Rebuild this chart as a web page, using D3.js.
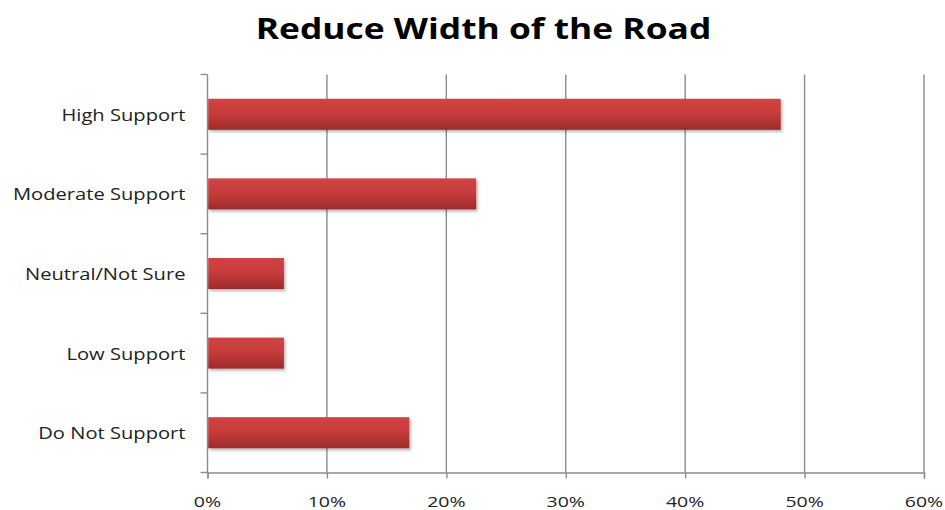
<!DOCTYPE html>
<html>
<head>
<meta charset="utf-8">
<script src="https://cdn.jsdelivr.net/npm/d3@7"></script>
<style>
  html, body { margin: 0; padding: 0; background: #fff; }
  svg { display: block; }
</style>
</head>
<body>
<svg id="chart" width="945" height="510"></svg>
<script>
// Survey responses, top to bottom
const categories = ["High Support", "Moderate Support", "Neutral/Not Sure", "Low Support", "Do Not Support"];
const shares = [0.48, 0.225, 0.064, 0.064, 0.169];
const xTickValues = [0, 0.1, 0.2, 0.3, 0.4, 0.5, 0.6];
const chartTitle = "Reduce Width of the Road";

const svg = d3.select("#chart");
const margin = { left: 207.5, right: 21, top: 74.5, bottom: 37.5 };
const W = 945, H = 510;
const FONT = "'Open Sans', 'DejaVu Sans', sans-serif";
const AXIS_GREY = "#8c8c8c";

const x = d3.scaleLinear().domain([0, 0.6]).range([margin.left, W - margin.right]);
const y = d3.scaleBand().domain(categories).range([margin.top, H - margin.bottom])
  .paddingInner(0.61).paddingOuter(0.305);

// Text set in a wide face: glyphs are stretched horizontally around their anchor
function wideText(parent, px, py, str, opts) {
  return parent.append("text")
    .attr("transform", `translate(${px},${py}) scale(${opts.sx},1)`)
    .attr("text-anchor", opts.anchor || "start")
    .attr("dy", opts.dy || 0)
    .style("font-family", FONT)
    .style("font-size", opts.size + "px")
    .style("font-weight", opts.weight || 400)
    .attr("fill", opts.fill || "#222")
    .text(str);
}

// Bar gradient and soft drop shadow
const defs = svg.append("defs");
const grad = defs.append("linearGradient").attr("id", "barGrad")
  .attr("x1", 0).attr("y1", 0).attr("x2", 0).attr("y2", 1);
grad.append("stop").attr("offset", "0%").attr("stop-color", "#d24443");
grad.append("stop").attr("offset", "45%").attr("stop-color", "#c73c3b");
grad.append("stop").attr("offset", "100%").attr("stop-color", "#9c2b2b");
const shadow = defs.append("filter").attr("id", "barShadow")
  .attr("x", "-5%").attr("y", "-30%").attr("width", "110%").attr("height", "170%");
shadow.append("feDropShadow").attr("dx", 1.5).attr("dy", 2).attr("stdDeviation", 1.6)
  .attr("flood-color", "#000").attr("flood-opacity", 0.3);

// Title
wideText(svg, 483.5, 39, chartTitle, { sx: 1.22, size: 29, weight: 700, anchor: "middle", fill: "#000" });

// Vertical gridlines
svg.append("g").selectAll("line")
  .data(xTickValues.filter(d => d > 0))
  .join("line")
  .attr("x1", d => x(d)).attr("x2", d => x(d))
  .attr("y1", margin.top).attr("y2", H - margin.bottom)
  .attr("stroke", AXIS_GREY).attr("stroke-width", 1.4);

// X axis line and ticks
const xAxis = svg.append("g")
  .attr("transform", `translate(0,${H - margin.bottom})`)
  .call(d3.axisBottom(x).tickValues(xTickValues).tickFormat("").tickSizeOuter(0).tickSize(6));
xAxis.select(".domain").attr("stroke", AXIS_GREY).attr("stroke-width", 1.4);
xAxis.selectAll(".tick line").attr("stroke", AXIS_GREY).attr("stroke-width", 1.4);
const pct = d3.format(".0%");
xTickValues.forEach(v => {
  wideText(svg, x(v), 507, pct(v), { sx: 1.3, size: 15, anchor: "middle" });
});

// Y axis with category dividers as ticks
const yAxisG = svg.append("g").attr("transform", `translate(${margin.left},0)`);
yAxisG.append("line")
  .attr("x1", 0).attr("x2", 0)
  .attr("y1", margin.top).attr("y2", H - margin.bottom)
  .attr("stroke", AXIS_GREY).attr("stroke-width", 1.4);
const step = y.step();
const dividers = d3.range(categories.length + 1).map(i => margin.top + i * step);
yAxisG.selectAll("line.div").data(dividers).join("line").attr("class", "div")
  .attr("x1", -7).attr("x2", 0)
  .attr("y1", d => d).attr("y2", d => d)
  .attr("stroke", AXIS_GREY).attr("stroke-width", 1.4);
categories.forEach(c => {
  wideText(yAxisG, -22, y(c) + y.bandwidth() / 2 + 1, c, { sx: 1.3, size: 15.5, anchor: "end", dy: "0.35em" });
});

// Bars
svg.append("g").selectAll("rect")
  .data(categories.map((c, i) => ({ c, v: shares[i] })))
  .join("rect")
  .attr("x", x(0) + 0.7)
  .attr("y", d => y(d.c))
  .attr("width", d => x(d.v) - x(0) - 0.7)
  .attr("height", y.bandwidth())
  .attr("fill", "url(#barGrad)")
  .attr("filter", "url(#barShadow)");
</script>
</body>
</html>
